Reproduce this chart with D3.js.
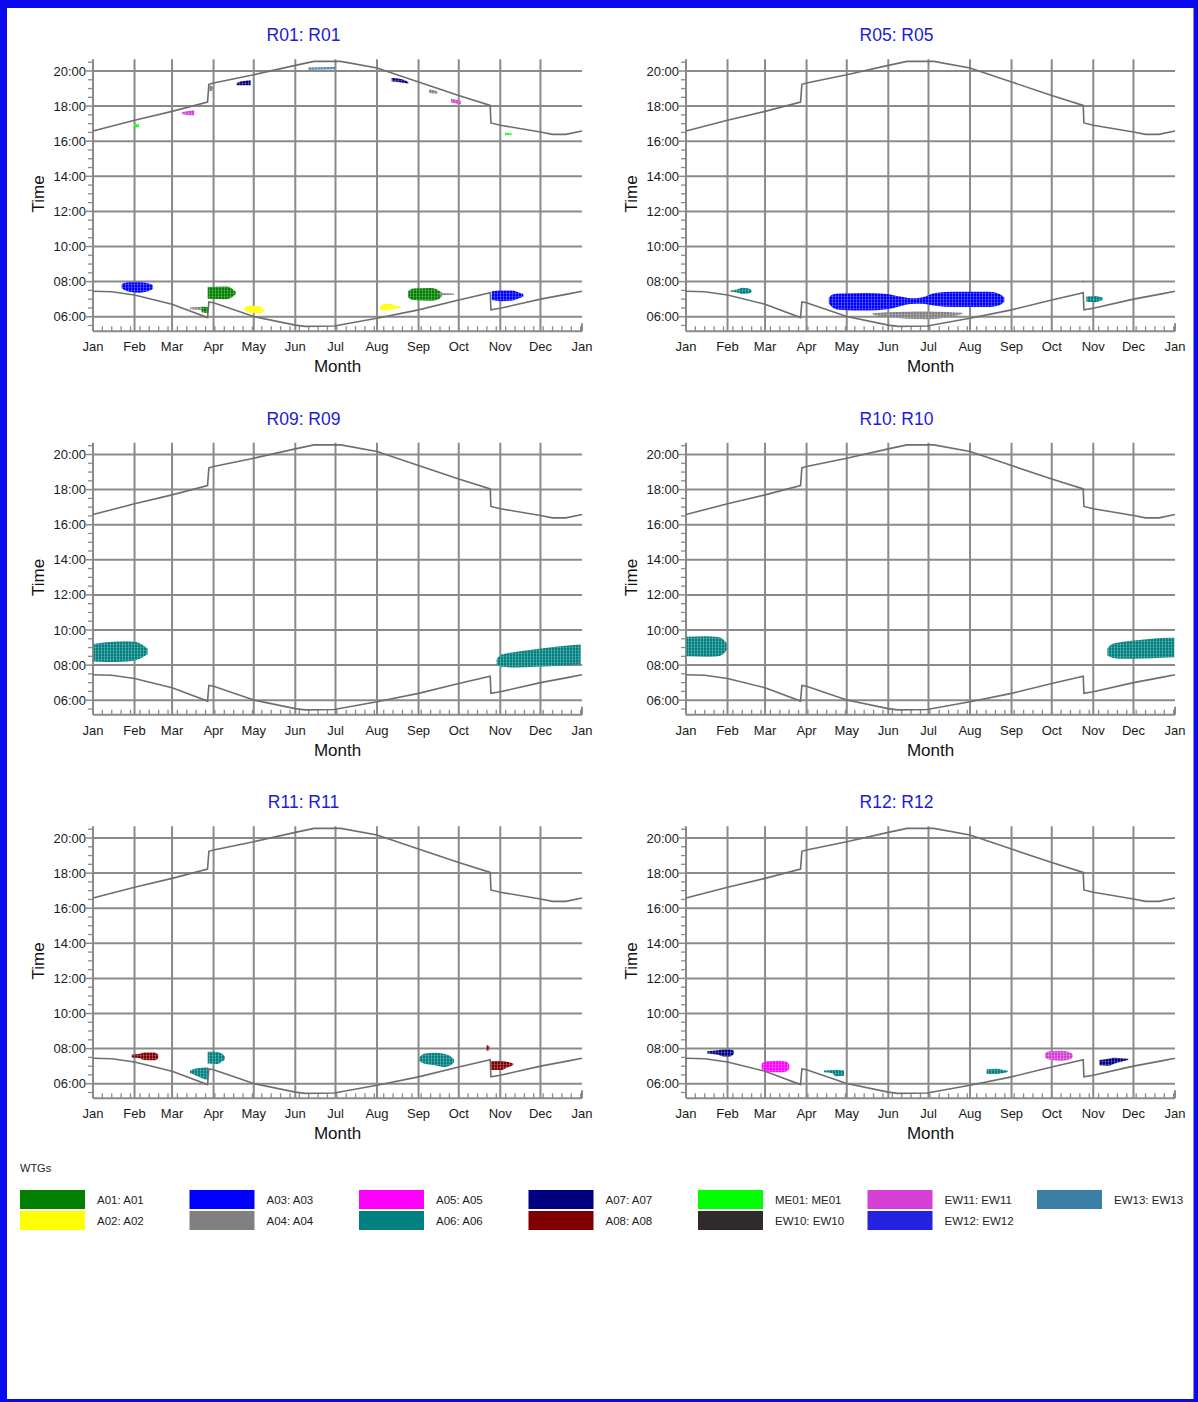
<!DOCTYPE html>
<html><head><meta charset="utf-8">
<script src="https://cdn.jsdelivr.net/npm/d3@7"></script>
<style>body{margin:0;background:#fff}svg{display:block}</style>
</head><body>
<svg id="chart" width="1198" height="1402"></svg>
<script>
// ---------- data ----------
const receptors = ["R01: R01","R05: R05","R09: R09","R10: R10","R11: R11","R12: R12"];
const monthLabels = ["Jan","Feb","Mar","Apr","May","Jun","Jul","Aug","Sep","Oct","Nov","Dec","Jan"];
const timeTickValues = [6,8,10,12,14,16,18,20];
const timeTickLabels = ["06:00","08:00","10:00","12:00","14:00","16:00","18:00","20:00"];

const wtgNames  = ["A01","A02","A03","A04","A05","A06","A07","A08","ME01","EW10","EW11","EW12","EW13"];
const wtgLabels = ["A01: A01","A02: A02","A03: A03","A04: A04","A05: A05","A06: A06","A07: A07","A08: A08","ME01: ME01","EW10: EW10","EW11: EW11","EW12: EW12","EW13: EW13"];
const wtgColors = ["#007f00","#ffff00","#0000ff","#808080","#ff00ff","#008080","#000080","#800000","#00ff00","#302a2a","#d63fd6","#2222e0","#3c7fa6"];

// sunrise / sunset (day of year, clock hours)
const sunriseDays  = [0,14,31,59,85.5,86.5,90,120,151,158,180,212,243,273,296.5,297,304,334,355,365];
const sunriseHours = [7.45,7.42,7.24,6.71,5.95,6.84,6.79,6.01,5.52,5.45,5.47,5.91,6.39,6.95,7.37,6.39,6.48,7.0,7.3,7.45];
const sunsetDays   = [0,31,59,85.5,86.5,90,120,151,165,185,212,243,273,296.5,297,304,334,343,353,365];
const sunsetHours  = [16.58,17.19,17.70,18.23,19.24,19.32,19.79,20.32,20.55,20.55,20.17,19.37,18.61,18.04,17.04,16.91,16.52,16.39,16.39,16.58];

// shadow periods per receptor: [wtg, [[day, fromHour, toHour], ...]]
const flickerR01 = [
  ["A03",[[21.4,7.62,7.86],[27,7.42,7.96],[35,7.37,7.96],[41,7.45,7.9],[44.6,7.58,7.81]]],
  ["A04",[[72.4,6.42,6.52],[81,6.38,6.57]]],
  ["A01",[[81,6.25,6.57],[86,6.19,6.55]]],
  ["A01",[[85.6,7.02,7.69],[100,7.0,7.72],[104,7.12,7.58],[106.5,7.28,7.42]]],
  ["A02",[[112.7,6.38,6.5],[117,6.22,6.62],[124,6.19,6.6],[127.6,6.33,6.43]]],
  ["A02",[[214.2,6.4,6.55],[217,6.35,6.72],[222,6.4,6.74],[226,6.45,6.62],[229.7,6.48,6.58]]],
  ["A01",[[235.3,7.1,7.45],[239,6.95,7.6],[252,6.91,7.63],[258,7.0,7.5],[260.3,7.15,7.38]]],
  ["A04",[[258,7.22,7.36],[269.5,7.25,7.32]]],
  ["A03",[[297.6,6.95,7.45],[305,6.88,7.5],[313,6.92,7.5],[318,7.05,7.38],[321.2,7.15,7.3]]],
  ["ME01",[[30.8,16.8,16.97],[34.3,16.8,16.97]]],
  ["EW11",[[66.2,17.55,17.65],[70,17.5,17.7],[75.6,17.48,17.76]]],
  ["A04",[[86.8,18.84,19.19],[90.3,18.9,19.1]]],
  ["A07",[[107.2,19.19,19.3],[110,19.19,19.4],[117.7,19.19,19.47]]],
  ["EW13",[[160.7,20.07,20.2],[180.6,20.1,20.23]]],
  ["A07",[[222.9,19.4,19.6],[230,19.35,19.55],[235.3,19.28,19.38]]],
  ["A04",[[251,18.75,18.96],[257,18.71,18.85]]],
  ["EW11",[[267.2,18.2,18.42],[274.5,18.1,18.3]]],
  ["ME01",[[307.5,16.34,16.48],[312.5,16.36,16.44]]]
];
const flickerR05 = [
  ["A06",[[33.1,7.42,7.5],[38,7.38,7.55],[42,7.3,7.65],[47,7.32,7.6],[49.1,7.42,7.5]]],
  ["A03",[[106.6,6.75,7.05],[109,6.55,7.25],[114,6.4,7.32],[135,6.35,7.35],[150,6.42,7.3],[160,6.6,7.15],[168,6.72,7.05],[176,6.74,7.1],[186,6.62,7.35],[200,6.55,7.42],[226,6.55,7.42],[234,6.65,7.3],[237.6,6.85,7.1]]],
  ["A04",[[139.4,6.1,6.2],[150,5.98,6.25],[165,5.88,6.28],[180,5.86,6.3],[195,5.95,6.27],[206.2,6.15,6.22]]],
  ["A06",[[298.8,6.85,7.15],[305,6.82,7.18],[311,6.95,7.1]]],
  ["A06",[[296,7.96,8.04],[297.5,7.96,8.04]]]
];
const flickerR09 = [
  ["A06",[[0.5,8.2,9.2],[10,8.17,9.3],[25,8.2,9.36],[33,8.3,9.3],[37,8.45,9.15],[40.8,8.62,8.95]]],
  ["A06",[[301.3,8.0,8.35],[305,7.9,8.6],[315,7.86,8.75],[330,7.9,8.9],[345,7.95,9.05],[364,8.05,9.17]]]
];
const flickerR10 = [
  ["A06",[[0.5,8.5,9.62],[15,8.47,9.65],[24,8.5,9.6],[28,8.65,9.45],[30.4,8.85,9.25]]],
  ["A06",[[314.5,8.55,8.95],[318,8.42,9.2],[325,8.36,9.32],[340,8.38,9.45],[355,8.42,9.55],[364.5,8.45,9.56]]]
];
const flickerR11 = [
  ["A08",[[28.9,7.5,7.65],[35,7.45,7.7],[38,7.35,7.78],[46,7.33,7.78],[48.7,7.45,7.65]]],
  ["A06",[[85.6,7.15,7.82],[93,7.12,7.8],[96,7.25,7.72],[98.5,7.4,7.55]]],
  ["A06",[[72.4,6.6,6.75],[76,6.5,6.85],[80,6.35,6.9],[86,6.2,6.92]]],
  ["A06",[[243.6,7.3,7.5],[247,7.15,7.7],[255,7.05,7.77],[262,6.95,7.7],[267,7.05,7.55],[269.5,7.22,7.38]]],
  ["A08",[[293.8,7.88,8.2],[295.8,7.9,8.15]]],
  ["A08",[[296.3,6.78,7.28],[305,6.78,7.3],[309,6.92,7.25],[313.7,7.05,7.15]]]
];
const flickerR12 = [
  ["A07",[[15.9,7.72,7.85],[24,7.65,7.9],[28,7.55,7.95],[33,7.55,7.95],[35.8,7.7,7.88]]],
  ["A05",[[56.5,6.85,7.15],[60,6.7,7.28],[70,6.65,7.31],[75,6.7,7.25],[77.1,6.85,7.1]]],
  ["A06",[[103,6.65,6.75],[109,6.6,6.78],[112,6.42,6.8],[117.9,6.45,6.75]]],
  ["A06",[[224.4,6.55,6.82],[232,6.55,6.85],[236,6.6,6.8],[240.1,6.67,6.75]]],
  ["EW11",[[268,7.5,7.72],[271,7.38,7.85],[280,7.31,7.88],[286,7.38,7.8],[288.6,7.5,7.68]]],
  ["A07",[[308.5,7.05,7.35],[315,7.02,7.42],[320,7.15,7.48],[325,7.25,7.45],[330.1,7.35,7.42]]]
];
const flickerByReceptor = [flickerR01,flickerR05,flickerR09,flickerR10,flickerR11,flickerR12];

// ---------- drawing ----------
const svg = d3.select("#chart");
const FONT = "Arial, 'Liberation Sans', sans-serif";
const GRID = "#8a8a8a";
const t0 = Date.UTC(2010,0,1), t1 = Date.UTC(2011,0,1);
const dayToDate = d => new Date(t0 + d*864e5);
const colorOf = d3.scaleOrdinal().domain(wtgNames).range(wtgColors);

// textured fills
const defs = svg.append("defs");
wtgNames.forEach(n => {
  const p = defs.append("pattern").attr("id","pat-"+n).attr("patternUnits","userSpaceOnUse")
    .attr("width",3).attr("height",3);
  p.append("rect").attr("width",3).attr("height",3).attr("fill",colorOf(n));
  p.append("rect").attr("x",2).attr("width",1).attr("height",3).attr("fill","#fff").attr("opacity",0.25);
  p.append("rect").attr("y",2).attr("width",3).attr("height",1).attr("fill","#fff").attr("opacity",0.15);
});

svg.append("rect").attr("width",1198).attr("height",1402).attr("fill","#fff");

const panelLeft = [93, 686], plotW = 489, rowStep = 383.5;
const yTop = 20.67, yBot = 5.17;

receptors.forEach((name, i) => {
  const c = i % 2, r = Math.floor(i / 2);
  const g = svg.append("g").attr("transform", `translate(${panelLeft[c]},0)`);
  const x = d3.scaleUtc().domain([t0, t1]).range([0, plotW]);
  const y = d3.scaleLinear().domain([6, 20]).range([316.7 + r*rowStep, 71 + r*rowStep]);

  // title
  g.append("text").attr("x", 210.5).attr("y", 41 + r*rowStep).attr("text-anchor","middle")
    .attr("font-family",FONT).attr("font-size",17.5).attr("fill","#1c1cd6").text(name);

  // grid
  g.selectAll(null).data(timeTickValues).enter().append("line")
    .attr("x1",0).attr("x2",plotW).attr("y1",d=>y(d)).attr("y2",d=>y(d))
    .attr("stroke",GRID).attr("stroke-width",2);
  const months = d3.utcMonth.range(new Date(t0), new Date(t1 + 1));
  g.selectAll(null).data(months.slice(1, 12)).enter().append("line")
    .attr("x1",d=>x(d)).attr("x2",d=>x(d)).attr("y1",y(yTop)).attr("y2",y(yBot))
    .attr("stroke",GRID).attr("stroke-width",2);

  // axis lines
  g.append("line").attr("x1",0).attr("x2",0).attr("y1",y(yTop)).attr("y2",y(yBot))
    .attr("stroke",GRID).attr("stroke-width",2);
  g.append("line").attr("x1",0).attr("x2",plotW).attr("y1",y(yBot)).attr("y2",y(yBot))
    .attr("stroke",GRID).attr("stroke-width",2);

  // y ticks
  const minorY = d3.range(5.5, 20.6, 0.5).filter(v => !timeTickValues.includes(v));
  g.selectAll(null).data(minorY).enter().append("line")
    .attr("x1",-5).attr("x2",0).attr("y1",d=>y(d)).attr("y2",d=>y(d)).attr("stroke",GRID).attr("stroke-width",1.3);
  g.selectAll(null).data(timeTickValues).enter().append("line")
    .attr("x1",-7).attr("x2",0).attr("y1",d=>y(d)).attr("y2",d=>y(d)).attr("stroke",GRID).attr("stroke-width",1.5);
  g.selectAll(null).data(timeTickValues).enter().append("text")
    .attr("x",-7).attr("y",d=>y(d)).attr("dy","0.35em").attr("text-anchor","end")
    .attr("font-family",FONT).attr("font-size",13).attr("fill","#1a1a1a")
    .text((d,k)=>timeTickLabels[k]);

  // x ticks
  const weeks = d3.range(7, 365, 7).map(dayToDate);
  g.selectAll(null).data(weeks).enter().append("line")
    .attr("x1",d=>x(d)).attr("x2",d=>x(d)).attr("y1",y(yBot)-5).attr("y2",y(yBot))
    .attr("stroke",GRID).attr("stroke-width",1.3);
  g.append("line").attr("x1",plotW).attr("x2",plotW).attr("y1",y(yBot)-8).attr("y2",y(yBot))
    .attr("stroke",GRID).attr("stroke-width",2);
  g.selectAll(null).data(months).enter().append("text")
    .attr("x",d=>x(d)).attr("y",y(yBot)+20).attr("text-anchor","middle")
    .attr("font-family",FONT).attr("font-size",13).attr("fill","#1a1a1a")
    .text((d,k)=>monthLabels[k]);

  // axis titles
  g.append("text").attr("x",plotW/2).attr("y",y(yBot)+41).attr("text-anchor","middle")
    .attr("font-family",FONT).attr("font-size",17).attr("fill","#111").text("Month");
  g.append("text").attr("transform",`translate(-49,${(y(6)+y(20))/2}) rotate(-90)`)
    .attr("text-anchor","middle").attr("font-family",FONT).attr("font-size",17).attr("fill","#111").text("Time");

  // flicker periods
  const area = d3.area().x(p=>x(dayToDate(p[0]))).y0(p=>y(p[1])).y1(p=>y(p[2])).curve(d3.curveMonotoneX);
  flickerByReceptor[i].forEach(([w, pts]) => {
    g.append("path").attr("d", area(pts)).attr("fill", `url(#pat-${w})`);
  });

  // sunrise / sunset lines
  const line = d3.line().x(p=>x(dayToDate(p[0]))).y(p=>y(p[1]));
  g.append("path").attr("d", line(sunriseDays.map((d,k)=>[d, sunriseHours[k]])))
    .attr("fill","none").attr("stroke","#6e6e6e").attr("stroke-width",1.6);
  g.append("path").attr("d", line(sunsetDays.map((d,k)=>[d, sunsetHours[k]])))
    .attr("fill","none").attr("stroke","#6e6e6e").attr("stroke-width",1.6);
});

// legend
svg.append("text").attr("x",20).attr("y",1172).attr("font-family",FONT).attr("font-size",11).attr("fill","#222").text("WTGs");
wtgNames.forEach((n, k) => {
  const col = Math.floor(k / 2), row = k % 2;
  const lx = 20 + col*169.5, ly = 1190 + row*21;
  svg.append("rect").attr("x",lx).attr("y",ly).attr("width",65).attr("height",19).attr("fill",colorOf(n));
  svg.append("text").attr("x",lx+77).attr("y",ly+13.5).attr("font-family",FONT).attr("font-size",11.5)
    .attr("fill","#222").text(wtgLabels[k]);
});

// blue border
const B = "#0a0af2";
svg.append("rect").attr("x",0).attr("y",0).attr("width",1198).attr("height",8).attr("fill",B);
svg.append("rect").attr("x",0).attr("y",0).attr("width",7).attr("height",1402).attr("fill",B);
svg.append("rect").attr("x",1193.5).attr("y",0).attr("width",4.5).attr("height",1402).attr("fill",B);
svg.append("rect").attr("x",0).attr("y",1399).attr("width",1198).attr("height",3).attr("fill",B);
</script>
</body></html>
